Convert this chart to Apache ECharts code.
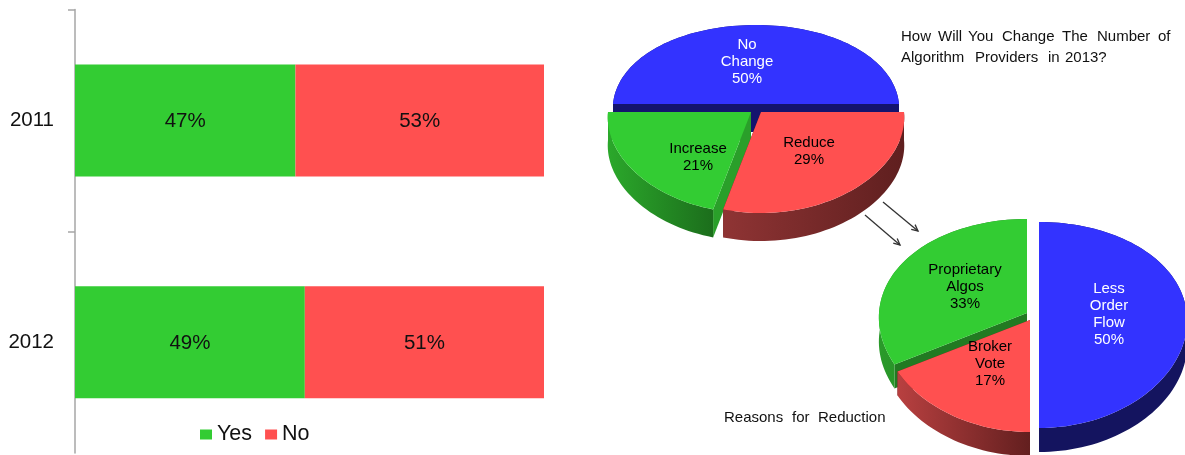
<!DOCTYPE html>
<html>
<head>
<meta charset="utf-8">
<style>html,body{margin:0;padding:0;background:#fff}#chart{width:1185px;height:455px}</style>
<script src="https://cdn.jsdelivr.net/npm/echarts@6/dist/echarts.min.js"></script>
</head>
<body>
<div id="chart"></div>
<script>
// Survey answers by year
const years = ['2011', '2012'];
const yesValues = [47, 49];
const noValues = [53, 51];

// Planned change in algorithm providers for 2013
const changeNames = ['No\nChange', 'Increase', 'Reduce'];
const changeValues = [50, 21, 29];

// Reasons given for a reduction
const reasonNames = ['Proprietary\nAlgos', 'Broker\nVote', 'Less\nOrder\nFlow'];
const reasonValues = [33, 17, 50];

const FONT = '"Liberation Sans", Arial, sans-serif';
const BLUE = '#3333ff', GREEN = '#33cc33', RED = '#ff5050';
const AXIS_GREY = '#a6a6a6';

const wall = (from, to) => new echarts.graphic.LinearGradient(0, 0, 1, 0, [
  { offset: 0, color: from }, { offset: 1, color: to }
]);

// Tilted pies: each slice has its own pulled-out centre; angles run clockwise from north.
// `sweep` is the clockwise order of the slices, the array order is the paint order.
const changePie = {
  startAngle: 270, sweep: [0, 2, 1], rx: 143, ryBack: 79, ryFront: 101, depth: 28,
  slices: [
    { cx: 756, cy: 104, fill: BLUE, side: '#14146e', cut: '#14146e', text: '#fff', lx: 747, ly: 61.5 },
    { cx: 751, cy: 112, fill: GREEN, side: wall('#2ba82b', '#1c6e1c'), cut: '#2a9f2a', text: '#000', lx: 698, ly: 157 },
    { cx: 761, cy: 112, fill: RED, side: wall('#8f3434', '#5f1f1f'), cut: '#5f1f1f', text: '#000', lx: 809, ly: 151 }
  ]
};
const reasonPie = {
  startAngle: 0, sweep: [2, 1, 0], rx: 148, ryBack: 94, ryFront: 112, depth: 24,
  slices: [
    { cx: 1027, cy: 313, fill: GREEN, side: wall('#2a9a2a', '#1d701d'), cut: '#227a22', text: '#000', lx: 965, ly: 287 },
    { cx: 1030, cy: 320, fill: RED, side: wall('#b84040', '#631f1f'), cut: '#631f1f', text: '#000', lx: 990, ly: 363.5 },
    { cx: 1039, cy: 316, fill: BLUE, side: '#14145f', cut: '#14145f', text: '#fff', lx: 1109, ly: 314 }
  ]
};

// Perspective projection of a disc point: the near edge appears larger than the far edge.
function project(slice, pie, angle, drop) {
  const t = angle * Math.PI / 180;
  const k = (pie.ryFront - pie.ryBack) / (pie.ryFront + pie.ryBack);
  const ry = 2 * pie.ryFront * pie.ryBack / (pie.ryFront + pie.ryBack);
  const w = 1 + k * Math.cos(t);
  return [slice.cx + pie.rx * Math.sin(t) / Math.sqrt(w), slice.cy - ry * Math.cos(t) / w + drop];
}

function arcPoints(slice, pie, a0, a1, drop) {
  const pts = [];
  const n = Math.max(4, Math.ceil(Math.abs(a1 - a0) / 2));
  for (let i = 0; i <= n; i++) pts.push(project(slice, pie, a0 + (a1 - a0) * i / n, drop));
  return pts;
}

function pieSeries(pie, names, values) {
  const total = values.reduce((a, b) => a + b, 0);
  return {
    type: 'custom',
    coordinateSystem: 'none',
    silent: true,
    data: values,
    renderItem(params, api) {
      const i = params.dataIndex;
      const pos = pie.sweep.indexOf(i);
      const before = pie.sweep.slice(0, pos).reduce((sum, j) => sum + values[j], 0);
      const a0 = pie.startAngle + before / total * 360;
      const a1 = a0 + api.value(0) / total * 360;
      const s = pie.slices[i];
      const d = pie.depth;
      const apex = [s.cx, s.cy];
      const apexLow = [s.cx, s.cy + d];
      const end0 = project(s, pie, a0, 0), end1 = project(s, pie, a1, 0);
      const low0 = project(s, pie, a0, d), low1 = project(s, pie, a1, d);
      const poly = (points, fill) => ({ type: 'polygon', shape: { points }, style: { fill } });
      return {
        type: 'group',
        children: [
          poly([apex, end0, low0, apexLow], s.cut),
          poly([apex, end1, low1, apexLow], s.cut),
          poly(arcPoints(s, pie, a0, a1, 0).concat(arcPoints(s, pie, a1, a0, d)), s.side),
          poly([apex].concat(arcPoints(s, pie, a0, a1, 0)), s.fill),
          {
            type: 'text',
            style: {
              x: s.lx, y: s.ly,
              text: names[i] + '\n' + values[i] + '%',
              fill: s.text, font: '15px ' + FONT, lineHeight: 17,
              align: 'center', verticalAlign: 'middle'
            }
          }
        ]
      };
    }
  };
}

function arrow(x0, y0, x1, y1) {
  const line = { stroke: '#333', lineWidth: 1.3 };
  const u = Math.atan2(y1 - y0, x1 - x0);
  const head = a => [x1 - 7 * Math.cos(u + a), y1 - 7 * Math.sin(u + a)];
  return [
    { type: 'line', shape: { x1: x0, y1: y0, x2: x1, y2: y1 }, style: line },
    { type: 'polyline', shape: { points: [head(0.45), [x1, y1], head(-0.45)] }, style: { ...line, fill: null } }
  ];
}

// Captions are justified, so every word is set at its own x.
function caption(y, words, xs) {
  return words.map((text, i) => ({
    type: 'text', x: xs[i], y,
    style: { text, fill: '#111', font: '15px ' + FONT, verticalAlign: 'middle' }
  }));
}

function axisTick(y) {
  return { type: 'line', shape: { x1: 68, y1: y, x2: 75, y2: y }, style: { stroke: AXIS_GREY, lineWidth: 1.5 } };
}

const barLabel = {
  show: true, position: 'inside', color: '#111', fontFamily: FONT, fontSize: 20.5, offset: [0, 1], formatter: '{c}%'
};

const chart = echarts.init(document.getElementById('chart'), null, { renderer: 'canvas' });
chart.setOption({
  animation: false,
  backgroundColor: '#fff',
  grid: { left: 75, right: 641, top: 9.5, bottom: 2, containLabel: false },
  legend: {
    data: ['Yes', 'No'], left: 200, top: 423.5, padding: 0, icon: 'rect', itemWidth: 12, itemHeight: 10, itemGap: 13,
    textStyle: { fontFamily: FONT, fontSize: 21.5, color: '#111' },
    selectedMode: false
  },
  xAxis: { type: 'value', min: 0, max: 100, show: false },
  yAxis: {
    type: 'category', data: years, inverse: true,
    axisLine: { show: true, lineStyle: { color: AXIS_GREY, width: 1.5 } },
    axisTick: { show: false },
    axisLabel: { color: '#111', fontFamily: FONT, fontSize: 20.5, margin: 21 }
  },
  series: [
    { name: 'Yes', type: 'bar', stack: 'share', barWidth: 112, data: yesValues, itemStyle: { color: GREEN }, label: barLabel },
    { name: 'No', type: 'bar', stack: 'share', barWidth: 112, data: noValues, itemStyle: { color: RED }, label: barLabel },
    pieSeries(changePie, changeNames, changeValues),
    pieSeries(reasonPie, reasonNames, reasonValues)
  ],
  graphic: [
    axisTick(10),
    axisTick(232),
    ...caption(37, ['How', 'Will', 'You', 'Change', 'The', 'Number', 'of'], [901, 938, 968, 1002, 1062, 1097, 1158]),
    ...caption(58, ['Algorithm', 'Providers', 'in', '2013?'], [901, 975, 1048, 1065]),
    ...caption(418, ['Reasons', 'for', 'Reduction'], [724, 792, 818]),
    ...arrow(883, 202, 918, 231),
    ...arrow(865, 215, 900, 245)
  ]
});
</script>
</body>
</html>
